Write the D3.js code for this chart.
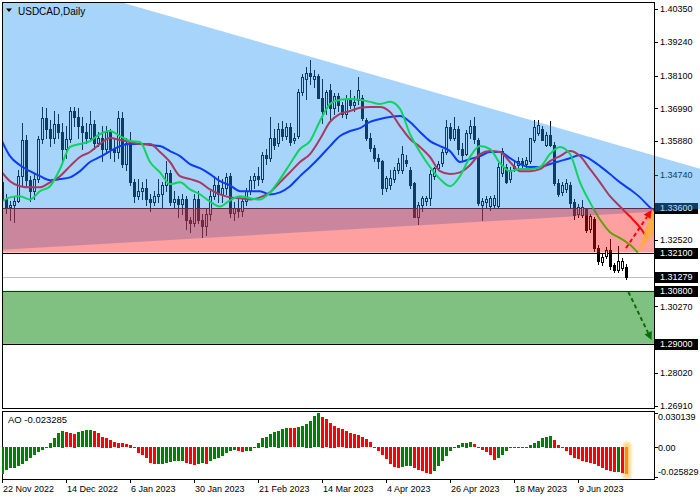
<!DOCTYPE html>
<html><head><meta charset="utf-8">
<script src="https://cdn.jsdelivr.net/npm/d3@7/dist/d3.min.js"></script>
<style>html,body{margin:0;padding:0;background:#fff}svg{display:block;font-family:"Liberation Sans",Arial,sans-serif}</style>
</head><body>
<svg width="700" height="500"></svg>
<script>
// ---------------- DATA ----------------
const symbolTitle = "USDCAD,Daily";
const dateLabels = ["22 Nov 2022","14 Dec 2022","6 Jan 2023","30 Jan 2023","21 Feb 2023","14 Mar 2023","4 Apr 2023","26 Apr 2023","18 May 2023","9 Jun 2023"];
const dateLabelBars = [0,16,32,48,64,80,96,112,128,144];
const priceTicks = [1.40350,1.39240,1.38100,1.36990,1.35880,1.34740,1.32520,1.30270,1.28020,1.26910];
const levelLabels = [1.33600,1.32100,1.31279,1.30800,1.29000];
const aoTicks = [0.030139,0.00,-0.025829];
const bidPrice = 1.31279;
const resistZone = [1.33600,1.32100];
const targetZone = [1.30800,1.29000];
const triBars = [0,0,203.5];
const triPrices = [1.4175,1.3219,1.3381];
const orangeBars = [159,162.5,165];
const orangePrices = [1.3208,1.3358,1.3314];
const upArrowBars = [156,162.4];
const upArrowPrices = [1.3225,1.3354];
const downArrowBars = [156.6,162.4];
const downArrowPrices = [1.3076,1.2913];

const opens = [
1.3450,1.3392,1.3365,1.3372,1.3385,1.3470,1.3590,1.3455,1.3420,1.3460,
1.3595,1.3665,1.3630,1.3600,1.3645,1.3620,1.3560,1.3595,1.3690,1.3668,
1.3640,1.3620,1.3600,1.3645,1.3580,1.3600,1.3560,1.3620,1.3560,1.3550,
1.3665,1.3510,1.3580,1.3450,1.3400,1.3420,1.3430,1.3390,1.3380,1.3400,
1.3410,1.3440,1.3480,1.3380,1.3390,1.3375,1.3390,1.3320,1.3310,1.3390,
1.3320,1.3300,1.3340,1.3400,1.3440,1.3410,1.3430,1.3470,1.3345,1.3360,
1.3350,1.3385,1.3420,1.3455,1.3470,1.3460,1.3540,1.3530,1.3600,1.3580,
1.3630,1.3605,1.3635,1.3592,1.3605,1.3755,1.3800,1.3820,1.3800,1.3808,
1.3735,1.3700,1.3760,1.3700,1.3740,1.3710,1.3680,1.3730,1.3710,1.3728,
1.3735,1.3660,1.3600,1.3565,1.3530,1.3520,1.3430,1.3440,1.3460,1.3490,
1.3490,1.3525,1.3490,1.3445,1.3330,1.3370,1.3385,1.3395,1.3470,1.3495,
1.3512,1.3550,1.3635,1.3600,1.3630,1.3560,1.3545,1.3615,1.3640,1.3590,
1.3370,1.3380,1.3368,1.3370,1.3368,1.3480,1.3500,1.3460,1.3497,1.3507,
1.3520,1.3510,1.3520,1.3592,1.3615,1.3630,1.3575,1.3610,1.3575,1.3445,
1.3415,1.3425,1.3440,1.3380,1.3340,1.3337,1.3356,1.3290,1.3322,1.3226,
1.3177,1.3198,1.3220,1.3167,1.3150,1.3157,1.3160];
const highs = [
1.3470,1.3410,1.3385,1.3400,1.3490,1.3650,1.3610,1.3470,1.3480,1.3605,
1.3705,1.3700,1.3660,1.3690,1.3680,1.3650,1.3640,1.3705,1.3705,1.3700,
1.3670,1.3650,1.3690,1.3660,1.3620,1.3640,1.3640,1.3630,1.3600,1.3690,
1.3685,1.3600,1.3620,1.3460,1.3460,1.3450,1.3460,1.3410,1.3420,1.3460,
1.3450,1.3520,1.3490,1.3420,1.3400,1.3410,1.3400,1.3330,1.3410,1.3420,
1.3340,1.3360,1.3420,1.3470,1.3470,1.3460,1.3480,1.3480,1.3380,1.3390,
1.3395,1.3430,1.3470,1.3480,1.3500,1.3550,1.3560,1.3670,1.3630,1.3650,
1.3655,1.3650,1.3650,1.3615,1.3765,1.3815,1.3840,1.3862,1.3830,1.3815,
1.3800,1.3760,1.3780,1.3750,1.3750,1.3720,1.3745,1.3760,1.3740,1.3805,
1.3745,1.3665,1.3615,1.3575,1.3545,1.3525,1.3470,1.3490,1.3500,1.3530,
1.3570,1.3540,1.3500,1.3450,1.3380,1.3400,1.3400,1.3490,1.3500,1.3520,
1.3560,1.3660,1.3650,1.3668,1.3640,1.3580,1.3625,1.3660,1.3668,1.3600,
1.3395,1.3400,1.3400,1.3405,1.3515,1.3565,1.3510,1.3500,1.3520,1.3535,
1.3530,1.3535,1.3600,1.3660,1.3660,1.3640,1.3620,1.3655,1.3585,1.3460,
1.3450,1.3460,1.3450,1.3390,1.3375,1.3388,1.3362,1.3340,1.3330,1.3235,
1.3205,1.3230,1.3255,1.3175,1.3232,1.3190,1.3170];
const lows = [
1.3380,1.3345,1.3320,1.3315,1.3380,1.3440,1.3440,1.3385,1.3390,1.3450,
1.3580,1.3600,1.3570,1.3580,1.3600,1.3520,1.3530,1.3585,1.3640,1.3600,
1.3560,1.3580,1.3590,1.3560,1.3570,1.3520,1.3550,1.3530,1.3520,1.3530,
1.3500,1.3490,1.3440,1.3380,1.3390,1.3390,1.3370,1.3350,1.3370,1.3380,
1.3360,1.3420,1.3370,1.3360,1.3330,1.3340,1.3290,1.3280,1.3300,1.3310,
1.3262,1.3270,1.3320,1.3390,1.3380,1.3380,1.3410,1.3330,1.3320,1.3330,
1.3335,1.3370,1.3410,1.3430,1.3440,1.3450,1.3510,1.3520,1.3560,1.3570,
1.3590,1.3595,1.3575,1.3580,1.3600,1.3745,1.3730,1.3782,1.3770,1.3735,
1.3650,1.3680,1.3660,1.3680,1.3690,1.3670,1.3665,1.3700,1.3690,1.3715,
1.3660,1.3590,1.3555,1.3520,1.3495,1.3410,1.3420,1.3425,1.3450,1.3480,
1.3480,1.3505,1.3430,1.3330,1.3305,1.3350,1.3370,1.3370,1.3460,1.3490,
1.3505,1.3545,1.3590,1.3590,1.3545,1.3520,1.3540,1.3600,1.3580,1.3370,
1.3320,1.3360,1.3355,1.3360,1.3360,1.3470,1.3445,1.3450,1.3485,1.3495,
1.3500,1.3500,1.3515,1.3585,1.3610,1.3590,1.3570,1.3570,1.3440,1.3400,
1.3405,1.3415,1.3360,1.3325,1.3330,1.3330,1.3280,1.3280,1.3215,1.3172,
1.3168,1.3190,1.3155,1.3145,1.3145,1.3150,1.3120];
const closes = [
1.3392,1.3365,1.3372,1.3385,1.3470,1.3590,1.3455,1.3420,1.3460,1.3595,
1.3665,1.3630,1.3600,1.3645,1.3620,1.3560,1.3595,1.3690,1.3668,1.3640,
1.3620,1.3600,1.3645,1.3580,1.3600,1.3560,1.3620,1.3560,1.3550,1.3665,
1.3510,1.3580,1.3450,1.3400,1.3420,1.3430,1.3390,1.3380,1.3400,1.3410,
1.3440,1.3480,1.3380,1.3390,1.3375,1.3390,1.3320,1.3310,1.3390,1.3320,
1.3300,1.3340,1.3400,1.3440,1.3410,1.3430,1.3465,1.3345,1.3360,1.3350,
1.3385,1.3420,1.3455,1.3470,1.3460,1.3540,1.3530,1.3600,1.3575,1.3630,
1.3605,1.3635,1.3585,1.3600,1.3755,1.3805,1.3820,1.3810,1.3808,1.3735,
1.3690,1.3755,1.3700,1.3740,1.3710,1.3680,1.3730,1.3710,1.3720,1.3760,
1.3665,1.3600,1.3565,1.3530,1.3520,1.3430,1.3462,1.3462,1.3490,1.3515,
1.3545,1.3515,1.3440,1.3330,1.3370,1.3395,1.3395,1.3475,1.3495,1.3510,
1.3552,1.3635,1.3600,1.3630,1.3560,1.3540,1.3615,1.3640,1.3595,1.3378,
1.3385,1.3390,1.3395,1.3395,1.3500,1.3555,1.3450,1.3490,1.3505,1.3520,
1.3510,1.3525,1.3598,1.3637,1.3643,1.3592,1.3610,1.3575,1.3445,1.3410,
1.3440,1.3445,1.3378,1.3336,1.3364,1.3365,1.3288,1.3333,1.3226,1.3180,
1.3196,1.3220,1.3163,1.3150,1.3182,1.3180,1.31279];

// Alligator lines, read every 10 px (first sample at bar 0), last value = line end
const jawVals = [
1.3588,1.3537,1.3506,1.3486,1.3469,1.3455,1.3459,1.3465,1.3486,1.3517,
1.3534,1.3554,1.3571,1.3578,1.3578,1.3575,1.3571,1.3554,1.3537,1.3510,
1.3496,1.3476,1.3452,1.3438,1.3418,1.3418,1.3418,1.3407,1.3414,1.3435,
1.3469,1.3500,1.3534,1.3571,1.3605,1.3622,1.3632,1.3653,1.3663,1.3670,
1.3673,1.3653,1.3619,1.3588,1.3571,1.3554,1.3517,1.3527,1.3537,1.3551,
1.3551,1.3530,1.3510,1.3500,1.3500,1.3510,1.3520,1.3530,1.3541,1.3527,
1.3503,1.3476,1.3448,1.3424,1.3397,1.3363,1.3343];
const teethVals = [
1.3482,1.3452,1.3435,1.3431,1.3431,1.3448,1.3469,1.3503,1.3534,1.3551,
1.3578,1.3598,1.3592,1.3585,1.3578,1.3578,1.3551,1.3517,1.3469,1.3459,
1.3448,1.3424,1.3407,1.3397,1.3394,1.3390,1.3397,1.3414,1.3448,1.3482,
1.3517,1.3544,1.3595,1.3653,1.3680,1.3690,1.3701,1.3704,1.3704,1.3687,
1.3639,1.3595,1.3568,1.3534,1.3486,1.3476,1.3482,1.3506,1.3544,1.3554,
1.3551,1.3517,1.3486,1.3486,1.3493,1.3520,1.3537,1.3554,1.3537,1.3493,
1.3448,1.3401,1.3366,1.3332,1.3295,1.3265];
const lipsVals = [
1.3383,1.3397,1.3401,1.3390,1.3418,1.3435,1.3493,1.3568,1.3578,1.3588,
1.3612,1.3622,1.3605,1.3588,1.3585,1.3517,1.3482,1.3442,1.3448,1.3424,
1.3407,1.3383,1.3366,1.3387,1.3401,1.3394,1.3390,1.3414,1.3459,1.3510,
1.3561,1.3588,1.3656,1.3714,1.3728,1.3731,1.3728,1.3721,1.3714,1.3721,
1.3697,1.3612,1.3551,1.3500,1.3459,1.3435,1.3469,1.3534,1.3571,1.3561,
1.3513,1.3486,1.3493,1.3493,1.3500,1.3544,1.3568,1.3544,1.3448,1.3380,
1.3322,1.3279,1.3259,1.3236,1.3209];
const jawShift = 8, teethShift = 5, lipsShift = 3;

const aoVals = [
-0.0235,-0.0197,-0.0188,-0.0182,-0.0168,-0.0153,-0.0124,-0.0095,-0.0066,-0.0042,
-0.0022,0.0007,0.0042,0.0080,0.0124,0.0147,0.0133,0.0124,0.0122,0.0133,
0.0141,0.0150,0.0153,0.0144,0.0124,0.0095,0.0086,0.0066,0.0045,0.0042,
0.0037,0.0028,0.0022,-0.0007,-0.0051,-0.0066,-0.0095,-0.0138,-0.0153,-0.0152,
-0.0150,-0.0138,-0.0130,-0.0124,-0.0123,-0.0122,-0.0138,-0.0153,-0.0159,-0.0147,
-0.0144,-0.0153,-0.0124,-0.0109,-0.0095,-0.0080,-0.0051,-0.0037,-0.0028,-0.0037,
-0.0045,-0.0037,-0.0031,0.0007,0.0042,0.0080,0.0095,0.0115,0.0133,0.0147,
0.0159,0.0168,0.0167,0.0166,0.0177,0.0188,0.0206,0.0235,0.0275,0.030139,
0.0270,0.0245,0.0215,0.0190,0.0170,0.0161,0.0145,0.0130,0.0120,0.0110,
0.0090,0.0072,0.0045,0.0007,-0.0037,-0.0074,-0.0109,-0.0153,-0.0173,-0.0182,
-0.0175,-0.0168,-0.0162,-0.0182,-0.0197,-0.0212,-0.0226,-0.0235,-0.0212,-0.0168,
-0.0124,-0.0080,-0.0037,0.0007,0.0022,0.0037,0.0042,0.0045,0.0030,0.0007,
-0.0022,-0.0045,-0.0066,-0.0116,-0.0095,-0.0066,-0.0037,-0.0010,-0.0005,-0.0008,
-0.0012,0.0007,0.0022,0.0042,0.0057,0.0080,0.0095,0.0101,0.0066,0.0022,
-0.0001,-0.0037,-0.0066,-0.0095,-0.0109,-0.0124,-0.0133,-0.0144,-0.0153,-0.0168,
-0.0182,-0.0197,-0.0212,-0.0222,-0.0219,-0.0226,-0.023285];

// ---------------- CHART ----------------
const svg = d3.select("svg");
const L = 2, R = 654, T = 2, B = 408, aoT = 411, aoB = 479;
const N = closes.length;
const x = d3.scaleLinear().domain([0, 156]).range([2, 626]);
const y = d3.scaleLinear().domain([1.2691, 1.4035]).range([405.5, 9.3]);
const ya = d3.scaleLinear().domain([-0.025829, 0.030139]).range([477, 413]);

const defs = svg.append("defs");
defs.append("clipPath").attr("id", "cpMain").append("rect").attr("x", L).attr("y", T).attr("width", R - L).attr("height", B - T);
defs.append("clipPath").attr("id", "cpTri").append("rect").attr("x", L).attr("y", T).attr("width", 700 - L).attr("height", B - T);
defs.append("clipPath").attr("id", "cpAO").append("rect").attr("x", L).attr("y", aoT).attr("width", R - L).attr("height", aoB - aoT);
const blur = defs.append("filter").attr("id", "glow").attr("x", "-100%").attr("y", "-20%").attr("width", "300%").attr("height", "140%");
blur.append("feGaussianBlur").attr("stdDeviation", 1.5);

svg.append("rect").attr("width", 700).attr("height", 500).attr("fill", "#fff");

// ---- base layer (under the translucent zones)
const base = svg.append("g").attr("clip-path", "url(#cpMain)");
const py = p => Math.round(y(p)) + 0.5;

base.append("line").attr("x1", L).attr("x2", R).attr("y1", py(bidPrice)).attr("y2", py(bidPrice))
  .attr("stroke", "#c0c0c0").attr("stroke-width", 1);

base.selectAll("line.zb").data([...resistZone, ...targetZone]).join("line").attr("class", "zb")
  .attr("x1", L).attr("x2", R).attr("y1", d => py(d)).attr("y2", d => py(d))
  .attr("stroke", "#000").attr("stroke-width", 1);

const bars = d3.range(N).map(i => ({i, o: opens[i], h: highs[i], l: lows[i], c: closes[i]}));
const cg = base.append("g").attr("shape-rendering", "crispEdges");
cg.selectAll("line.w").data(bars).join("line").attr("class", "w")
  .attr("x1", d => Math.round(x(d.i)) + 0.5).attr("x2", d => Math.round(x(d.i)) + 0.5)
  .attr("y1", d => Math.round(y(Math.max(d.h, d.o, d.c)))).attr("y2", d => Math.round(y(Math.min(d.l, d.o, d.c))) + 1)
  .attr("stroke", "#000").attr("stroke-width", 1);
cg.selectAll("rect.bd").data(bars.filter(d => d.c < d.o)).join("rect").attr("class", "bd")
  .attr("x", d => Math.round(x(d.i)) - 1).attr("width", 3)
  .attr("y", d => Math.round(y(d.o))).attr("height", d => Math.max(1, Math.round(y(d.c)) - Math.round(y(d.o)) + 1))
  .attr("fill", "#000");
cg.selectAll("rect.bu").data(bars.filter(d => d.c >= d.o)).join("rect").attr("class", "bu")
  .attr("x", d => Math.round(x(d.i)) - 0.5).attr("width", 2)
  .attr("y", d => Math.round(y(d.c)) + 0.5).attr("height", d => Math.max(0, Math.round(y(d.o)) - Math.round(y(d.c))))
  .attr("fill", "#fff").attr("stroke", "#000").attr("stroke-width", 1);

function linePts(vals, shift) {
  // first sample at bar 0, then one sample every 10 px (2.5 bars), final value = end of shifted line
  return vals.map((v, k) => {
    let b = k === 0 ? 0 : 2.5 * k - 0.5;
    if (k === vals.length - 1) b = 156 + shift;
    return [b, v];
  });
}
const lineGen = d3.line().x(d => x(d[0])).y(d => y(d[1])).curve(d3.curveMonotoneX);
[[jawVals, jawShift, "#0000ff"], [teethVals, teethShift, "#ff0000"], [lipsVals, lipsShift, "#00ff00"]].forEach(([v, s, col]) => {
  base.append("path").attr("d", lineGen(linePts(v, s))).attr("fill", "none").attr("stroke", col).attr("stroke-width", 2);
});

// ---- price axis
const axG = svg.append("g");
axG.selectAll("line.t").data(priceTicks).join("line").attr("class", "t")
  .attr("x1", R).attr("x2", R + 4).attr("y1", d => py(d)).attr("y2", d => py(d)).attr("stroke", "#000");
axG.selectAll("text.t").data(priceTicks).join("text").attr("class", "t")
  .attr("x", 660).attr("y", d => y(d)).attr("dy", "0.35em").attr("font-size", 9).attr("fill", "#000")
  .text(d => d.toFixed(5));
const lvG = axG.selectAll("g.lv").data(levelLabels).join("g").attr("class", "lv");
lvG.append("rect").attr("x", 655).attr("width", 43).attr("y", d => Math.round(y(d)) - 5).attr("height", 11).attr("fill", "#000");
lvG.append("text").attr("x", 660).attr("y", d => y(d)).attr("dy", "0.35em").attr("font-size", 9).attr("fill", "#fff")
  .text(d => d.toFixed(5));

// ---- translucent zones
const polyGen = d3.line().x(d => x(d[0])).y(d => y(d[1]));
svg.append("path").attr("clip-path", "url(#cpTri)")
  .attr("d", polyGen(triBars.map((b, k) => [b, triPrices[k]])) + "Z")
  .attr("fill", "rgb(33,148,243)").attr("fill-opacity", 0.4);
const zg = svg.append("g").attr("clip-path", "url(#cpMain)");
zg.append("rect").attr("x", L).attr("width", R - L)
  .attr("y", y(resistZone[0])).attr("height", y(resistZone[1]) - y(resistZone[0]))
  .attr("fill", "rgb(255,18,18)").attr("fill-opacity", 0.4);
zg.append("rect").attr("x", L).attr("width", R - L)
  .attr("y", y(targetZone[0])).attr("height", y(targetZone[1]) - y(targetZone[0]))
  .attr("fill", "rgb(1,129,1)").attr("fill-opacity", 0.5);

// ---- forecast marks
const fg = svg.append("g").attr("clip-path", "url(#cpMain)");
fg.append("path").attr("d", polyGen(orangeBars.map((b, k) => [b, orangePrices[k]])) + "Z")
  .attr("fill", "#ffad3a").attr("fill-opacity", 0.9);
function arrow(bs, ps, col) {
  const x1 = x(bs[0]), y1 = y(ps[0]), x2 = x(bs[1]), y2 = y(ps[1]);
  const a = Math.atan2(y2 - y1, x2 - x1), len = 8, wid = 4;
  const bx = x2 - len * Math.cos(a), by = y2 - len * Math.sin(a);
  fg.append("line").attr("x1", x1).attr("y1", y1).attr("x2", bx).attr("y2", by)
    .attr("stroke", col).attr("stroke-width", 2).attr("stroke-dasharray", "4,3");
  fg.append("path").attr("d", `M${x2},${y2}L${bx + wid * Math.sin(a)},${by - wid * Math.cos(a)}L${bx - wid * Math.sin(a)},${by + wid * Math.cos(a)}Z`)
    .attr("fill", col);
}
arrow(upArrowBars, upArrowPrices, "#ff0000");
arrow(downArrowBars, downArrowPrices, "#0a6e0a");

// ---- frames
svg.append("rect").attr("x", L + 0.5).attr("y", T + 0.5).attr("width", R - L).attr("height", B - T)
  .attr("fill", "none").attr("stroke", "#000");
svg.append("rect").attr("x", L + 0.5).attr("y", aoT + 0.5).attr("width", R - L).attr("height", aoB - aoT)
  .attr("fill", "none").attr("stroke", "#000");

// title
svg.append("path").attr("d", "M6,8.5L12,8.5L9,12Z").attr("fill", "#000");
svg.append("text").attr("x", 18).attr("y", 15).attr("font-size", 10).attr("fill", "#000").text(symbolTitle);

// ---- AO panel
const aoG = svg.append("g").attr("clip-path", "url(#cpAO)").attr("shape-rendering", "crispEdges");
const aoData = aoVals.map((v, i) => ({i, v, up: i === 0 ? true : v > aoVals[i - 1]}));
const last = aoData[N - 1];
aoG.append("rect").attr("x", Math.round(x(last.i)) - 3).attr("y", 442).attr("width", 8).attr("height", 37).attr("rx", 4)
  .attr("fill", "#ffcf70").attr("opacity", 0.85).attr("filter", "url(#glow)").attr("shape-rendering", "auto");
aoG.selectAll("rect.ao").data(aoData).join("rect").attr("class", "ao")
  .attr("x", d => Math.round(x(d.i)) - 1).attr("width", 3)
  .attr("y", d => Math.round(Math.min(ya(0), ya(d.v))))
  .attr("height", d => Math.max(1, Math.round(Math.abs(ya(d.v) - ya(0)))))
  .attr("fill", d => d.i === N - 1 ? "#ff8c1a" : (d.up ? "#008000" : "#ff0000"));
svg.append("text").attr("x", 8).attr("y", 422.5).attr("font-size", 9.5).attr("fill", "#000")
  .text("AO " + aoVals[N - 1].toFixed(6));

svg.selectAll("line.at").data(aoTicks).join("line").attr("class", "at")
  .attr("x1", R).attr("x2", R + 4).attr("y1", d => Math.round(ya(d)) + 0.5).attr("y2", d => Math.round(ya(d)) + 0.5).attr("stroke", "#000");
svg.selectAll("text.at").data(aoTicks).join("text").attr("class", "at")
  .attr("x", 658).attr("y", d => Math.min(472, Math.max(417, ya(d)))).attr("dy", "0.35em")
  .attr("font-size", 9).attr("fill", "#000").text(d => d === 0 ? "0.00" : d.toFixed(6));

// ---- date axis
svg.selectAll("line.dt").data(dateLabelBars).join("line").attr("class", "dt")
  .attr("x1", d => Math.round(x(d)) + 0.5).attr("x2", d => Math.round(x(d)) + 0.5)
  .attr("y1", aoB).attr("y2", aoB + 4).attr("stroke", "#000");
svg.selectAll("text.dt").data(dateLabelBars).join("text").attr("class", "dt")
  .attr("x", d => Math.round(x(d)) + 1).attr("y", 492).attr("font-size", 9).attr("fill", "#000")
  .text((d, k) => dateLabels[k]);
</script>
</body></html>
